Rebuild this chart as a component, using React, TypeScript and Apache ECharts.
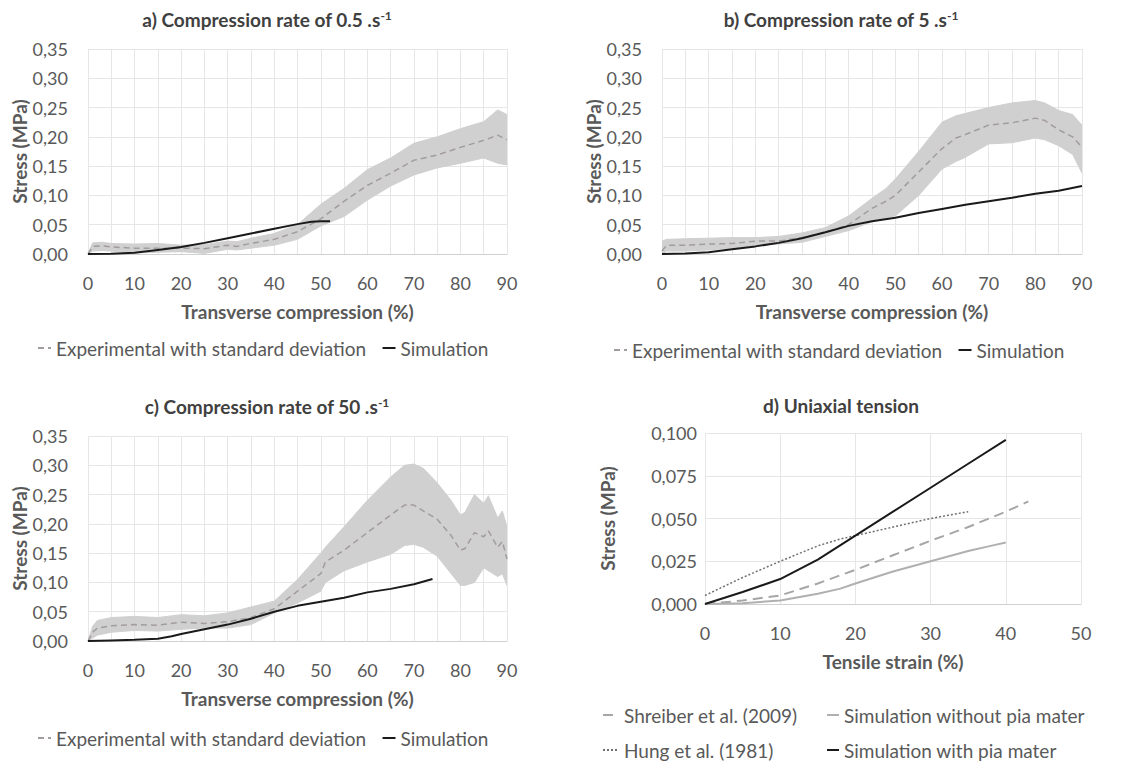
import React, { useEffect, useRef } from "react";
import * as echarts from "echarts";

// ---- Panel a) 0.5 /s ----
const aExpX = [0, 1, 3, 5, 10, 15, 20, 25, 30, 32, 35, 40, 45, 50, 55, 60, 65, 70, 75, 80, 85, 88, 90];
const aExpMean = [0.0, 0.013, 0.014, 0.012, 0.01, 0.01, 0.01, 0.009, 0.015, 0.013, 0.018, 0.025, 0.038, 0.06, 0.09, 0.117, 0.138, 0.16, 0.169, 0.182, 0.194, 0.203, 0.195];
const aExpLower = [0.0, 0.005, 0.006, 0.005, 0.002, 0.003, 0.004, 0.001, 0.008, 0.007, 0.01, 0.015, 0.025, 0.048, 0.064, 0.092, 0.116, 0.135, 0.147, 0.155, 0.164, 0.155, 0.152];
const aExpUpper = [0.0, 0.019, 0.02, 0.018, 0.017, 0.018, 0.015, 0.016, 0.022, 0.021, 0.027, 0.035, 0.05, 0.085, 0.112, 0.144, 0.164, 0.189, 0.2, 0.214, 0.226, 0.246, 0.238];
const aSimX = [0, 5, 10, 15, 20, 25, 30, 35, 40, 45, 48, 50, 52];
const aSimY = [0, 0.0005, 0.002, 0.007, 0.012, 0.019, 0.027, 0.035, 0.043, 0.051, 0.055, 0.056, 0.056];

// ---- Panel b) 5 /s ----
const bExpX = [0, 1, 5, 10, 15, 20, 25, 30, 35, 40, 45, 48, 50, 55, 60, 63, 65, 70, 75, 80, 82, 85, 88, 90];
const bExpMean = [0.005, 0.015, 0.015, 0.017, 0.018, 0.022, 0.022, 0.028, 0.037, 0.05, 0.078, 0.09, 0.1, 0.14, 0.18, 0.198, 0.204, 0.22, 0.224, 0.232, 0.228, 0.212, 0.2, 0.182];
const bExpLower = [0.0, 0.005, 0.005, 0.007, 0.01, 0.015, 0.017, 0.02, 0.03, 0.04, 0.055, 0.062, 0.065, 0.1, 0.145, 0.158, 0.165, 0.188, 0.19, 0.198, 0.195, 0.185, 0.17, 0.138];
const bExpUpper = [0.022, 0.025, 0.026, 0.027, 0.028, 0.028, 0.03, 0.036, 0.045, 0.065, 0.095, 0.112, 0.128, 0.175, 0.225, 0.236, 0.24, 0.25, 0.258, 0.262, 0.258, 0.245, 0.238, 0.22];
const bSimX = [0, 5, 10, 15, 20, 25, 30, 35, 40, 45, 50, 55, 60, 65, 70, 75, 80, 85, 90];
const bSimY = [0, 0.001, 0.003, 0.008, 0.013, 0.019, 0.027, 0.037, 0.048, 0.056, 0.062, 0.07, 0.077, 0.084, 0.09, 0.096, 0.103, 0.108, 0.116];

// ---- Panel c) 50 /s ----
const cExpX = [0, 1, 2, 5, 10, 15, 20, 25, 30, 35, 40, 45, 50, 51, 55, 60, 65, 68, 70, 72, 75, 78, 80, 81, 83, 85, 86, 88, 89, 90];
const cExpMean = [0.0, 0.015, 0.022, 0.026, 0.028, 0.027, 0.032, 0.03, 0.033, 0.04, 0.055, 0.085, 0.115, 0.135, 0.155, 0.185, 0.215, 0.232, 0.232, 0.222, 0.208, 0.18, 0.155, 0.158, 0.185, 0.178, 0.188, 0.16, 0.17, 0.14];
const cExpLower = [0.0, 0.005, 0.01, 0.015, 0.018, 0.017, 0.02, 0.022, 0.022, 0.028, 0.048, 0.065, 0.085, 0.1, 0.12, 0.135, 0.148, 0.163, 0.165, 0.16, 0.145, 0.115, 0.095, 0.095, 0.1, 0.125, 0.12, 0.11, 0.115, 0.095];
const cExpUpper = [0.0, 0.025, 0.035, 0.04, 0.042, 0.04, 0.045, 0.043, 0.048, 0.058, 0.068, 0.105, 0.15, 0.16, 0.195, 0.24, 0.28, 0.3, 0.302, 0.295, 0.27, 0.24, 0.215, 0.22, 0.25, 0.235, 0.248, 0.21, 0.222, 0.195];
const cSimX = [0, 5, 10, 15, 18, 20, 25, 30, 35, 40, 45, 50, 55, 60, 65, 70, 74];
const cSimY = [0, 0.001, 0.002, 0.004, 0.008, 0.012, 0.02, 0.028, 0.038, 0.05, 0.06, 0.067, 0.074, 0.083, 0.089, 0.097, 0.106];

// ---- Panel d) uniaxial tension ----
const dShreiberX = [0, 5, 10, 15, 20, 25, 30, 35, 40, 43];
const dShreiberY = [0, 0.002, 0.005, 0.012, 0.02, 0.0285, 0.037, 0.045, 0.054, 0.06];
const dHungX = [0, 5, 10, 15, 18, 20, 25, 30, 35];
const dHungY = [0.005, 0.0155, 0.025, 0.034, 0.038, 0.04, 0.045, 0.05, 0.054];
const dWithoutX = [0, 5, 10, 15, 18, 20, 25, 30, 35, 38, 40];
const dWithoutY = [0, 0.0005, 0.002, 0.006, 0.009, 0.012, 0.019, 0.025, 0.031, 0.034, 0.036];
const dWithX = [0, 5, 10, 15, 20, 25, 30, 35, 40];
const dWithY = [0, 0.007, 0.0146, 0.026, 0.04, 0.054, 0.068, 0.082, 0.096];

const titles = [
  "a) Compression rate of 0.5 .s{sup|-1}",
  "b) Compression rate of 5 .s{sup|-1}",
  "c) Compression rate of 50 .s{sup|-1}",
  "d) Uniaxial tension",
];
const EXP = "Experimental with standard deviation";
const SIM = "Simulation";
const SHR = "Shreiber et al. (2009)";
const HUNG = "Hung et al. (1981)";
const WITHOUT = "Simulation without pia mater";
const WITH = "Simulation with pia mater";

const FONT = "Lato, 'Open Sans', sans-serif";
const TXT = "#595959";
const GRIDC = "#e6e6e6";

const pairs = (xs: number[], ys: number[]) => xs.map((x, i) => [x, ys[i]]);

function App() {
  const ref = useRef<HTMLDivElement>(null);
  useEffect(() => {
    if (!ref.current) return;
    const chart = echarts.init(ref.current, null, { renderer: "svg" });

    const grids = [
      { left: 88, top: 49, width: 419, height: 205 },
      { left: 662, top: 49, width: 420, height: 205 },
      { left: 88, top: 436, width: 419, height: 205 },
      { left: 705, top: 433, width: 376, height: 171 },
    ];

    const xAxisBase = (gi: number, name: string, max: number, interval: number, labelEvery: number) => ({
      type: "value",
      gridIndex: gi,
      min: 0,
      max,
      interval,
      name,
      nameLocation: "middle",
      nameGap: 48,
      nameTextStyle: { fontFamily: FONT, fontSize: 19, fontWeight: "bold", color: TXT },
      axisLine: { show: true, lineStyle: { color: "#d0d0d0", width: 1 } },
      axisTick: { show: false },
      axisLabel: {
        margin: 20,
        fontFamily: FONT,
        fontSize: 18,
        color: TXT,
        formatter: (v: number) => (Math.round(v) % labelEvery === 0 ? String(Math.round(v)) : ""),
      },
      splitLine: { show: true, lineStyle: { color: GRIDC, width: 1 } },
    });

    const yAxisBase = (gi: number, max: number, interval: number, dec: number, gap: number, margin: number) => ({
      type: "value",
      gridIndex: gi,
      min: 0,
      max,
      interval,
      name: "Stress (MPa)",
      nameLocation: "middle",
      nameRotate: 90,
      nameGap: gap,
      nameTextStyle: { fontFamily: FONT, fontSize: 19, fontWeight: "bold", color: TXT },
      axisLine: { show: false },
      axisTick: { show: false },
      axisLabel: {
        margin,
        fontFamily: FONT,
        fontSize: 18,
        color: TXT,
        formatter: (v: number) => v.toFixed(dec).replace(".", ","),
      },
      splitLine: { show: true, lineStyle: { color: GRIDC, width: 1 } },
    });

    const bandSeries = (gi: number, xs: number[], lo: number[], up: number[]) => ({
      type: "custom",
      xAxisIndex: gi,
      yAxisIndex: gi,
      data: xs.map((x, i) => [x, lo[i], up[i]]),
      encode: { x: 0, y: [1, 2] },
      clip: true,
      silent: true,
      z: 1,
      renderItem: (params: any, api: any) => {
        if (params.dataIndex !== 0) return null;
        const top = xs.map((x, i) => api.coord([x, up[i]]));
        const bot = xs.map((x, i) => api.coord([x, lo[i]])).reverse();
        return {
          type: "polygon",
          shape: { points: [...top, ...bot] },
          style: { fill: "#d0d0d0", stroke: "#d0d0d0", lineWidth: 1 },
        };
      },
    });

    const meanSeries = (gi: number, xs: number[], mean: number[]) => ({
      name: EXP,
      type: "line",
      xAxisIndex: gi,
      yAxisIndex: gi,
      data: pairs(xs, mean),
      symbol: "none",
      lineStyle: { color: "#a39c9c", width: 1.5, type: [6, 4] },
      itemStyle: { color: "#a39c9c" },
      z: 3,
    });

    const simSeries = (gi: number, xs: number[], ys: number[]) => ({
      name: SIM,
      type: "line",
      xAxisIndex: gi,
      yAxisIndex: gi,
      data: pairs(xs, ys),
      symbol: "none",
      lineStyle: { color: "#1a1a1a", width: 2 },
      itemStyle: { color: "#1a1a1a" },
      z: 4,
    });

    const titleCenters = [
      [262, 4],
      [836, 4],
      [262, 391],
      [836, 391],
    ];

    const legendText = { fontFamily: FONT, fontSize: 19, color: TXT, lineHeight: 22 };
    const mkLegend = (names: string[], left: number, top: number, w: number) => ({
      data: names,
      left,
      top,
      padding: 0,
      itemWidth: w,
      itemHeight: 10,
      itemGap: 15,
      textStyle: legendText,
      itemStyle: { opacity: 0 },
      selectedMode: false,
    });

    const option: any = {
      animation: false,
      backgroundColor: "#ffffff",
      title: titles.map((t, i) => ({
        text: t,
        left: titleCenters[i][0],
        top: titleCenters[i][1],
        textAlign: "center",
        textStyle: {
          fontFamily: FONT,
          fontSize: 19,
          fontWeight: "bold",
          color: "#404040",
          rich: {
            sup: { fontFamily: FONT, fontSize: 12, fontWeight: "bold", color: "#404040", padding: [0, 0, 9, 0] },
          },
        },
      })),
      grid: grids,
      xAxis: [
        xAxisBase(0, "Transverse compression (%)", 90, 5, 10),
        xAxisBase(1, "Transverse compression (%)", 90, 5, 10),
        xAxisBase(2, "Transverse compression (%)", 90, 5, 10),
        xAxisBase(3, "Tensile strain (%)", 50, 10, 10),
      ],
      yAxis: [
        yAxisBase(0, 0.35, 0.05, 2, 58, 20),
        yAxisBase(1, 0.35, 0.05, 2, 58, 20),
        yAxisBase(2, 0.35, 0.05, 2, 58, 20),
        yAxisBase(3, 0.1, 0.025, 3, 88, 8),
      ],
      legend: [
        mkLegend([EXP, SIM], 37, 337, 13),
        mkLegend([EXP, SIM], 613, 339, 13),
        mkLegend([EXP, SIM], 37, 727, 13),
        mkLegend([SHR], 602, 704, 16),
        mkLegend([HUNG], 602, 739, 16),
        mkLegend([WITHOUT], 826, 704, 12),
        mkLegend([WITH], 826, 739, 12),
      ],
      series: [
        bandSeries(0, aExpX, aExpLower, aExpUpper),
        meanSeries(0, aExpX, aExpMean),
        simSeries(0, aSimX, aSimY),
        bandSeries(1, bExpX, bExpLower, bExpUpper),
        meanSeries(1, bExpX, bExpMean),
        simSeries(1, bSimX, bSimY),
        bandSeries(2, cExpX, cExpLower, cExpUpper),
        meanSeries(2, cExpX, cExpMean),
        simSeries(2, cSimX, cSimY),
        {
          name: SHR,
          type: "line",
          xAxisIndex: 3,
          yAxisIndex: 3,
          data: pairs(dShreiberX, dShreiberY),
          symbol: "none",
          lineStyle: { color: "#a6a6a6", width: 2, type: [10, 6] },
          itemStyle: { color: "#a6a6a6" },
        },
        {
          name: WITHOUT,
          type: "line",
          xAxisIndex: 3,
          yAxisIndex: 3,
          data: pairs(dWithoutX, dWithoutY),
          symbol: "none",
          lineStyle: { color: "#b0b0b0", width: 2 },
          itemStyle: { color: "#b0b0b0" },
        },
        {
          name: HUNG,
          type: "line",
          xAxisIndex: 3,
          yAxisIndex: 3,
          data: pairs(dHungX, dHungY),
          symbol: "none",
          lineStyle: { color: "#707070", width: 1.5, type: [2, 2] },
          itemStyle: { color: "#707070" },
        },
        {
          name: WITH,
          type: "line",
          xAxisIndex: 3,
          yAxisIndex: 3,
          data: pairs(dWithX, dWithY),
          symbol: "none",
          lineStyle: { color: "#1a1a1a", width: 2 },
          itemStyle: { color: "#1a1a1a" },
          z: 4,
        },
      ],
    };

    chart.setOption(option);
    return () => chart.dispose();
  }, []);

  return (
    <div
      ref={ref}
      style={{ position: "fixed", left: 0, top: 0, width: 1146, height: 763, background: "#fff" }}
    />
  );
}

export default App;
